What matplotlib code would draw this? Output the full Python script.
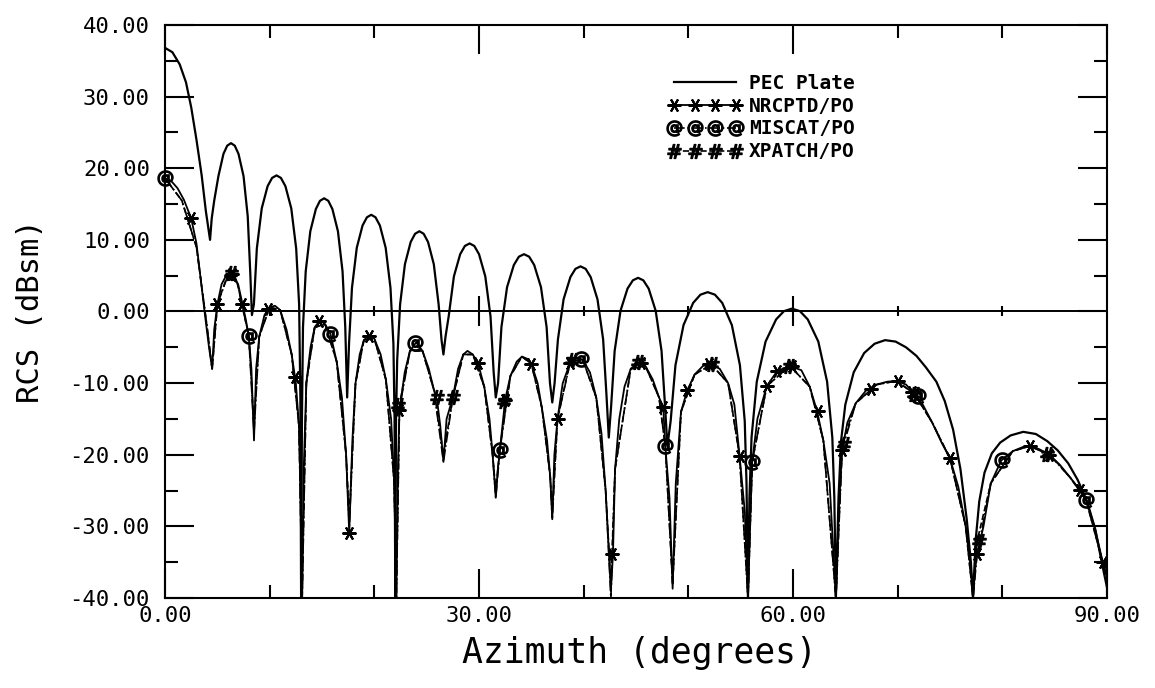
import matplotlib
matplotlib.use("Agg")
import matplotlib.pyplot as plt
from matplotlib.lines import Line2D
from matplotlib.ticker import FormatStrFormatter

# PEC plate (upper solid curve)
pec_az = [0, 0.7, 1.4, 2.0, 2.5, 3.0, 3.5, 3.9, 4.3,
          4.46, 4.7, 5.1, 5.58, 5.94, 6.3, 6.66, 7.02, 7.5, 7.9, 8.14, 8.3,
          8.49, 8.77, 9.24, 9.8, 10.23, 10.65, 11.07, 11.5, 12.06, 12.53, 12.81, 12.93, 13.0,
          13.08, 13.18, 13.44, 13.88, 14.41, 14.8, 15.2, 15.6, 15.99, 16.52, 16.96, 17.22, 17.4,
          17.58, 17.86, 18.32, 18.87, 19.29, 19.7, 20.11, 20.53, 21.08, 21.54, 21.82, 21.93, 22.0,
          22.07, 22.18, 22.46, 22.92, 23.47, 23.89, 24.3, 24.71, 25.13, 25.68, 26.14, 26.42, 26.6,
          26.8, 27.1, 27.6, 28.2, 28.65, 29.1, 29.55, 30.0, 30.6, 31.1, 31.4, 31.6,
          31.82, 32.14, 32.68, 33.33, 33.81, 34.3, 34.79, 35.27, 35.92, 36.46, 36.78, 37.0,
          37.22, 37.54, 38.08, 38.73, 39.21, 39.7, 40.19, 40.67, 41.32, 41.86, 42.18, 42.4,
          42.62, 42.96, 43.52, 44.19, 44.7, 45.2, 45.7, 46.21, 46.88, 47.44, 47.78, 48.0,
          48.31, 48.77, 49.54, 50.46, 51.16, 51.85, 52.54, 53.24, 54.16, 54.93, 55.39, 55.56, 55.7,
          55.84, 56.04, 56.54, 57.38, 58.39, 59.14, 59.9, 60.66, 61.41, 62.42, 63.26, 63.76, 63.95, 64.1,
          64.35, 64.6, 65.0, 65.8, 66.8, 67.8, 68.8, 69.8, 70.8, 71.8, 72.7, 73.7, 74.5, 75.3, 76.0, 76.6, 77.0, 77.2,
          77.45, 77.8, 78.3, 79.0, 79.8, 80.8, 82.0, 83.2, 84.3, 85.3, 86.3, 87.2, 88.1, 88.9, 89.5, 90.0]
pec_db = [36.8, 36.2, 34.5, 32, 28.5, 24, 19, 14, 10,
          13, 15.5, 18.9, 22, 23.15, 23.5, 23.15, 22, 18.9, 13.3, 5.5, -0.5,
          1.0, 8.8, 14.4, 17.5, 18.65, 19.0, 18.65, 17.5, 14.4, 8.8, 1.0, -12, -40,
          -15, -2.2, 5.6, 11.2, 14.3, 15.45, 15.8, 15.45, 14.3, 11.2, 5.6, -2.2, -12,
          -4.5, 3.3, 8.9, 12.0, 13.15, 13.5, 13.15, 12.0, 8.9, 3.3, -4.5, -15, -40,
          -15, -6.8, 1.0, 6.6, 9.7, 10.85, 11.2, 10.85, 9.7, 6.6, 1.0, -4, -6,
          -3.5, -0.7, 4.9, 8.0, 9.15, 9.5, 9.15, 8.0, 4.9, -0.7, -8.5, -12,
          -10, -2.2, 3.4, 6.5, 7.65, 8.0, 7.65, 6.5, 3.4, -2.2, -10, -12.7,
          -10, -3.9, 1.7, 4.8, 5.95, 6.3, 5.95, 4.8, 1.7, -3.9, -11.7, -17.6,
          -13.3, -5.5, 0.1, 3.2, 4.35, 4.7, 4.35, 3.2, 0.1, -5.5, -13.3, -18.8,
          -15.3, -7.5, -1.9, 1.2, 2.35, 2.7, 2.35, 1.2, -1.9, -7.5, -15.3, -24, -40,
          -26, -17.6, -9.8, -4.2, -1.1, 0.05, 0.4, 0.05, -1.1, -4.2, -9.8, -17.6, -26, -40,
          -26, -18, -13, -8.5, -5.8, -4.5, -4.0, -4.2, -5.0, -6.2, -7.8, -9.8, -12.5, -16.5, -22, -29, -35, -40,
          -32, -26.5, -22.5, -19.8, -18.3, -17.3, -16.8, -17.1, -18.1, -19.4, -21.2, -23.5, -26.5, -30.5, -35, -38.5]

# NRCPTD/PO (lower curve)
nrc_az = [0, 0.6, 1.2, 1.8, 2.5, 3.0, 3.5, 3.9, 4.2, 4.5,
          4.7, 5.0, 5.4, 5.8, 6.2, 6.6, 7.0, 7.4, 7.7, 8.0, 8.25, 8.5,
          8.7, 9.0, 9.5, 10.0, 10.5, 11.0, 11.6, 12.1, 12.5, 12.8, 13.0, 13.1,
          13.25, 13.5, 13.9, 14.3, 14.8, 15.3, 15.8, 16.4, 16.9, 17.3, 17.6,
          17.9, 18.2, 18.6, 19.0, 19.5, 20.0, 20.6, 21.1, 21.6, 21.9, 22.1,
          22.25, 22.4, 22.9, 23.4, 24.0, 24.6, 25.2, 25.7, 26.0, 26.3, 26.6,
          26.9, 27.5, 28.0, 28.5, 28.9, 29.4, 29.9, 30.5, 31.0, 31.3, 31.6,
          31.8, 32.0, 32.5, 33.0, 33.6, 34.1, 34.6, 35.0, 35.6, 36.0, 36.5, 36.8, 37.0,
          37.2, 37.5, 38.0, 38.7, 39.3, 39.9, 40.6, 41.2, 41.7, 42.1, 42.6,
          42.8, 43.0, 43.4, 43.9, 44.5, 45.2, 45.9, 46.6, 47.2, 47.6, 47.8, 48.2, 48.5,
          48.8, 49.3, 49.9, 50.6, 51.4, 52.2, 53.0, 53.8, 54.4, 54.9, 55.4, 55.7,
          55.9, 56.1, 56.6, 57.5, 58.5, 59.7, 60.8, 61.6, 62.3, 62.9, 63.5, 64.1,
          64.4, 64.7, 65.2, 66.0, 67.0, 68.0, 69.0, 69.9, 70.8, 71.6, 72.4, 73.3, 74.2, 75.0, 75.8, 76.5, 77.0, 77.2,
          77.4, 77.6, 78.2, 78.9, 79.9, 81.0, 82.0, 82.6, 83.5, 84.5, 85.5, 86.5, 87.4, 88.0, 88.8, 89.6, 90.0]
nrc_db = [18.6, 18.2, 17.2, 15.6, 13.0, 9.5, 3.4, -1.5, -5, -8,
          -2.5, 1.0, 3.8, 4.9, 5.3, 5.0, 3.7, 1.0, -1.0, -3.4, -8, -18,
          -8, -3.5, -0.5, 0.6, 0.8, 0.2, -2.5, -6, -10, -16, -28, -40,
          -22, -10, -5, -2.2, -1.2, -1.8, -3.1, -7, -12, -20, -31,
          -18, -10, -6, -4, -3.3, -3.8, -6, -9.5, -15, -24, -40,
          -22, -13.8, -8.5, -5.5, -4.3, -5.5, -8, -11, -12.5, -16, -21,
          -15, -12, -8, -6, -5.5, -6, -7.2, -10.5, -15, -20, -26,
          -22, -19.3, -12.3, -9, -7, -6.3, -6.6, -7.3, -10, -13.4, -18, -23, -29,
          -20, -15, -10, -7.2, -6.5, -6.7, -8.5, -12, -17, -25, -39,
          -33.9, -22, -15, -10.5, -8, -7.1, -7.6, -9.5, -12, -13.3, -18.8, -26, -38.7,
          -24, -14, -11, -8.8, -7.6, -7.4, -8.0, -10, -13, -20.2, -28, -40,
          -30, -21, -15, -10.4, -8.3, -7.6, -8.2, -10.5, -13.9, -18, -24, -40,
          -27, -19.3, -15.5, -12.8, -11, -10.2, -9.8, -9.7, -10.2, -11.5, -13, -15.5, -18.3, -20.5, -24.5, -30, -36, -40,
          -36, -33.8, -30, -24, -20.8, -19.5, -18.9, -18.8, -19.2, -20, -21.4, -23.2, -24.9, -26.3, -30, -35, -37]

# MISCAT/PO
mis_az = [0, 1.6, 3.0, 4.0, 4.5, 5.0, 6.0, 6.9, 8.0, 8.5, 9.0, 10.0, 11.0, 12.1, 12.8, 13.1,
          13.5, 14.3, 15.3, 16.4, 17.3, 17.6, 18.2, 19.0, 20.0, 21.1, 21.9, 22.1,
          22.4, 23.4, 24.6, 25.7, 26.6, 27.5, 28.5, 29.4, 30.5, 31.3, 31.6,
          32.0, 33.0, 34.1, 35.0, 36.0, 36.8, 37.0, 37.5, 38.7, 39.9, 41.2, 42.1, 42.6,
          43.0, 44.5, 45.9, 47.2, 47.8, 48.5, 49.3, 50.6, 52.2, 53.8, 54.9, 55.7,
          56.1, 57.5, 59.7, 61.6, 62.9, 64.1, 64.7, 66.0, 68.0, 69.9, 71.6, 73.3, 75.0, 76.5, 77.2,
          77.6, 78.9, 81.0, 82.6, 84.5, 86.5, 88.0, 89.6, 90.0]
mis_db = [18.6, 15.5, 9, -2, -8, 1, 5, 4, -3.4, -17, -3.5, 0.6, 0.2, -6, -16, -40,
          -10, -2.2, -1.8, -7, -20, -30, -10, -4, -3.8, -9.5, -24, -40,
          -13.5, -5.5, -5.5, -11, -21, -12, -6, -6, -10.5, -20, -26,
          -19.3, -9, -6.3, -7.3, -13.4, -23, -29, -15, -7.2, -6.7, -12, -25, -40,
          -22, -8, -7.6, -12, -18.8, -38, -14, -8.8, -7.4, -10, -20.2, -40,
          -21, -10.4, -7.6, -10.5, -18, -40, -19.3, -12.8, -10.2, -9.7, -11.5, -15.5, -20.5, -30, -40,
          -33.8, -24, -19.5, -18.8, -20, -23.2, -26.3, -35, -37]

# XPATCH/PO
xp_az = [0, 1.6, 3.0, 4.0, 4.5, 5.0, 6.0, 6.9, 8.0, 8.5, 9.0, 10.0, 11.0, 12.1, 12.8, 13.1,
         13.5, 14.3, 15.3, 16.4, 17.3, 17.6, 18.2, 19.0, 20.0, 21.1, 21.9, 22.1,
         22.4, 23.4, 24.6, 25.7, 26.6, 27.5, 28.5, 29.4, 30.5, 31.3, 31.6,
         32.0, 33.0, 34.1, 35.0, 36.0, 36.8, 37.0, 37.5, 38.7, 39.9, 41.2, 42.1, 42.6,
         43.0, 44.5, 45.9, 47.2, 47.8, 48.5, 49.3, 50.6, 52.2, 53.8, 54.9, 55.7,
         56.1, 57.5, 59.7, 61.6, 62.9, 64.1, 64.7, 66.0, 68.0, 69.9, 71.6, 73.3, 75.0, 76.5, 77.2,
         77.6, 78.9, 81.0, 82.6, 84.5, 86.5, 88.0, 89.6, 90.0]
xp_db = [18.6, 15.5, 9, -2, -8, 1, 5.2, 4, -3.4, -16, -3.5, 0.6, 0.2, -6, -16, -40,
         -10, -2.2, -1.8, -7, -20, -29, -10, -4, -3.8, -9.5, -24, -40,
         -13, -5.5, -5.5, -11, -20, -12, -6, -6, -10.5, -20, -25,
         -19, -9, -6.3, -7.3, -13.4, -23, -28, -15, -7.0, -6.7, -12, -25, -38,
         -22, -8, -7.6, -12, -18.8, -38, -14, -8.8, -7.4, -10, -20.2, -40,
         -21, -10.4, -7.6, -10.5, -18, -40, -18.5, -12.8, -10.2, -9.7, -11.5, -15.5, -20.5, -30, -40,
         -32, -24, -19.5, -18.8, -19.9, -23.2, -26.3, -35, -37]

# symbol positions along each computed curve
star_az = [2.5, 5.0, 6.4, 7.4, 9.8, 12.4, 14.7, 17.6, 19.5, 22.4, 29.9, 32.5, 35.0, 37.5, 38.7,
           42.75, 45.5, 47.6, 49.9, 52.0, 54.9, 57.5, 58.5, 59.9, 62.4, 64.7, 67.5, 70.0,
           71.4, 75.0, 77.6, 82.6, 84.5, 87.4, 89.6]
star_db = [13.0, 1.0, 5.3, 1.0, 0.3, -9.1, -1.3, -30.9, -3.4, -13.8, -7.2, -12.3, -7.3, -15.0, -7.2,
           -33.9, -7.2, -13.3, -11.0, -7.4, -20.2, -10.4, -8.3, -7.6, -13.9, -19.3, -10.8, -9.7,
           -11.3, -20.4, -33.8, -18.8, -20.0, -24.9, -35.0]
at_az = [0.0, 8.0, 15.8, 23.9, 32.0, 39.7, 47.8, 56.1, 71.9, 80.0, 88.0]
at_db = [18.6, -3.4, -3.1, -4.4, -19.3, -6.6, -18.8, -21.0, -11.8, -20.8, -26.3]
hash_az = [6.3, 22.3, 26.0, 27.5, 32.4, 38.9, 45.2, 52.3, 59.6, 64.9, 71.6, 77.8, 84.3]
hash_db = [5.4, -13.0, -12.0, -12.0, -12.5, -6.8, -7.1, -7.4, -7.6, -18.5, -11.5, -32.0, -19.9]

mono = "DejaVu Sans Mono"
star = (6, 2, 30)

fig = plt.figure(figsize=(11.55, 6.88), dpi=100)
ax = fig.add_axes([0.1429, 0.1308, 0.8155, 0.8329])

ax.plot(pec_az, pec_db, color="black", lw=1.6)
ax.plot(nrc_az, nrc_db, color="black", lw=1.3, ls="-")
ax.plot(mis_az, mis_db, color="black", lw=1.2, ls="-.")
ax.plot(xp_az, xp_db, color="black", lw=1.2, ls="--")
ax.plot(star_az, star_db, ls="none", marker=star, ms=10, mew=1.5, color="black")
ax.plot(at_az, at_db, ls="none", marker="$@$", ms=11, color="black", clip_on=False)
ax.plot(hash_az, hash_db, ls="none", marker=r"$\#$", ms=10, color="black")

ax.set_xlim(0, 90)
ax.set_ylim(-40, 40)
ax.set_xticks([0, 30, 60, 90])
ax.set_xticks(range(0, 91, 10), minor=True)
ax.set_yticks(range(-40, 41, 10))
ax.set_yticks(range(-40, 41, 5), minor=True)
ax.xaxis.set_major_formatter(FormatStrFormatter("%.2f"))
ax.yaxis.set_major_formatter(FormatStrFormatter("%.2f"))
ax.tick_params(which="both", direction="in", top=True, right=True, width=1.5)
ax.tick_params(which="major", length=21, labelsize=16)
ax.tick_params(which="minor", length=9.5)
ax.tick_params(axis="y", pad=11)
ax.tick_params(axis="x", pad=6)
for lab in ax.get_xticklabels() + ax.get_yticklabels():
    lab.set_family(mono)
for sp in ax.spines.values():
    sp.set_linewidth(1.5)

# reference axis along 0 dBsm
zero = ax.secondary_xaxis(0.5)
zero.set_xticks([30, 60])
zero.set_xticks([10, 20, 40, 50, 70, 80], minor=True)
zero.tick_params(which="both", direction="inout", width=1.5, labelbottom=False, labeltop=False)
zero.tick_params(which="major", length=21)
zero.tick_params(which="minor", length=7)
zero.spines["bottom"].set_linewidth(1.4)
zero.spines["top"].set_linewidth(1.4)

ax.set_ylabel("RCS (dBsm)", fontsize=22, family=mono)
ax.yaxis.set_label_coords(-0.127, 0.5)
ax.set_xlabel("Azimuth (degrees)", fontsize=25, family=mono, va="top")
ax.xaxis.set_label_coords(0.504, -0.066)

handles = [
    Line2D([], [], color="black", lw=1.6),
    Line2D([], [], color="black", lw=1.3, ls="-", marker=star, ms=10, mew=1.5),
    Line2D([], [], color="black", lw=1.2, ls="-.", marker="$@$", ms=11),
    Line2D([], [], color="black", lw=1.2, ls="--", marker=r"$\#$", ms=10),
]
ax.legend(handles, ["PEC Plate", "NRCPTD/PO", "MISCAT/PO", "XPATCH/PO"],
          loc="upper left", bbox_to_anchor=(0.534, 0.915), frameon=False,
          numpoints=4, handlelength=3.8, handletextpad=0.35, labelspacing=0.2,
          borderpad=0, borderaxespad=0,
          prop={"family": mono, "size": 14, "weight": "bold"})

fig.savefig("out.png", dpi=100)
